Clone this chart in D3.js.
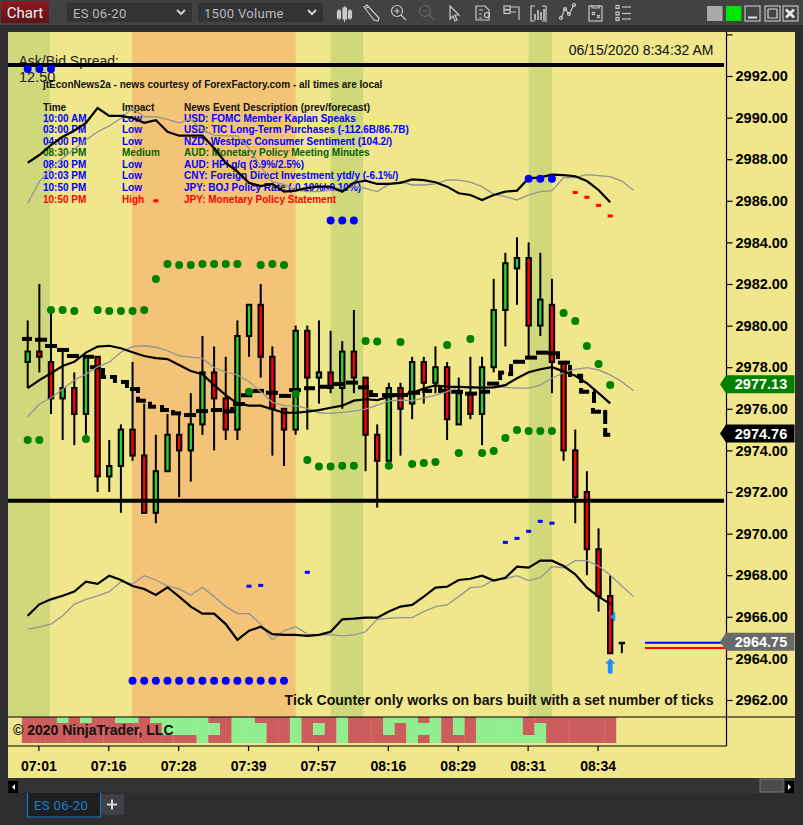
<!DOCTYPE html>
<html><head><meta charset="utf-8">
<script src="https://cdn.jsdelivr.net/npm/d3@7"></script>
<style>
html,body{margin:0;padding:0;background:#2d2d30;overflow:hidden}
svg{display:block}
text{font-family:"Liberation Sans",Arial,sans-serif}
.ax text{font-family:"Liberation Sans",Arial,sans-serif;font-weight:bold;fill:#000}
</style></head><body>
<div id="chart"></div>
<script>
// ---------- DATA ----------
const opens=[2978.25,2978.75,2978.25,2976.5,2977,2975.75,2978.5,2972.75,2973.25,2975,2973.75,2971,2973,2974.75,2974,2975.25,2977.75,2976.5,2975,2979.5,2981,2978.5,2976,2975,2979.75,2977.5,2977.75,2977,2978.75,2977.5,2974.75,2973.5,2977,2976.25,2978.25,2977.25,2978,2975.25,2976.75,2975.75,2978,2980.75,2982.75,2983.25,2980,2981,2978.25,2974,2972,2969.25,2967,2964.75];
const closes=[2978.75,2978.5,2976.5,2977,2975.75,2978.5,2972.75,2973.25,2975,2973.75,2971,2973,2974.75,2974,2975.25,2977.75,2976.5,2975,2979.5,2981,2978.5,2976,2975,2979.75,2977.5,2977.75,2977,2978.75,2977.5,2974.75,2973.5,2977,2976,2978.25,2977.25,2978,2975.5,2976.75,2975.75,2978,2980.75,2983,2983.25,2980,2981.25,2978.25,2974,2971.75,2969.25,2967,2964.25,2964.75];
const highs=[2980.25,2982,2980.75,2978.75,2977.75,2978.5,2978.5,2974.5,2975.25,2978.25,2976.25,2974.75,2975.75,2975.75,2976.75,2979.5,2979,2978.5,2980.25,2981,2982,2979,2976,2980,2980,2980.25,2979.75,2979.25,2980.75,2977.5,2975.25,2977.25,2977.25,2978.5,2978.5,2979,2978.25,2977.5,2978.5,2978.5,2982.25,2983.5,2984.25,2984,2983.5,2982.25,2978.25,2975,2973,2970.25,2968,2964.75];
const lows=[2977,2977.75,2975.75,2974.5,2974.25,2974.75,2972,2972,2971,2973.5,2971,2970.5,2973,2971.75,2972.5,2974.75,2974,2974.5,2974.5,2978.5,2977.5,2973.75,2973.25,2974.75,2975,2976.25,2976.75,2976,2976.75,2973,2971.25,2973.5,2973.75,2975.5,2976.25,2976.75,2974.5,2975.25,2975.5,2974.25,2977.75,2979,2981,2978.5,2979.5,2976.75,2973.5,2970.5,2968,2966.25,2964.25,2964.25];
const upperBlack=[2987.83,2988.20,2988.68,2989.08,2989.37,2989.74,2990.46,2990.08,2990.08,2989.98,2989.75,2989.88,2989.32,2989.13,2989.13,2989.13,2988.54,2987.82,2987.40,2986.86,2986.71,2986.81,2986.44,2986.49,2986.62,2986.68,2986.68,2986.44,2986.87,2986.97,2986.81,2986.81,2986.86,2987.03,2986.99,2986.89,2986.68,2986.36,2986.28,2986.04,2986.28,2986.44,2986.49,2987.08,2987.13,2987.26,2987.23,2987.18,2986.95,2986.52,2985.93];
const upperGray=[2985.88,2986.92,2987.56,2988.04,2988.49,2988.92,2989.32,2989.60,2989.97,2990.45,2990.04,2990.04,2989.92,2989.75,2989.92,2989.40,2989.16,2989.12,2989.12,2988.52,2987.64,2986.92,2986.79,2986.52,2986.44,2986.44,2986.52,2986.60,2986.68,2986.60,2986.44,2986.79,2986.92,2986.76,2986.76,2986.81,2987.00,2986.99,2986.90,2986.68,2986.31,2986.20,2986.04,2986.28,2986.44,2986.49,2987.11,2987.11,2987.26,2987.21,2987.16,2986.95,2986.51];
const midBlack=[2976.99,2977.38,2977.71,2978.06,2978.26,2978.70,2978.99,2979.03,2978.91,2978.72,2978.54,2978.44,2978.39,2978.11,2977.82,2977.66,2977.14,2976.66,2976.26,2976.15,2976.15,2975.98,2975.81,2975.81,2975.86,2975.94,2976.05,2976.15,2976.39,2976.46,2976.42,2976.57,2976.66,2976.77,2976.97,2977.13,2977.05,2977.05,2977.03,2977.02,2977.03,2977.14,2977.47,2977.76,2977.90,2978.00,2977.80,2977.59,2977.23,2976.75,2976.26];
const midGray=[2975.62,2976.23,2976.53,2976.94,2977.38,2977.67,2978.02,2978.24,2978.72,2978.99,2979.03,2978.96,2978.79,2978.55,2978.48,2978.43,2977.98,2977.76,2977.63,2977.30,2976.82,2976.31,2976.15,2976.14,2976.02,2975.81,2975.78,2975.83,2975.89,2975.98,2976.18,2976.38,2976.42,2976.39,2976.51,2976.66,2976.82,2977.06,2977.06,2977.03,2977.03,2977.03,2976.99,2976.99,2977.14,2977.47,2977.74,2977.90,2977.98,2977.87,2977.63,2977.30,2976.87];
const lowerBlack=[2966.05,2966.60,2966.84,2967.01,2967.21,2967.69,2967.58,2967.98,2967.77,2967.48,2967.34,2967.05,2967.42,2966.97,2966.49,2966.15,2966.15,2965.65,2964.89,2965.33,2965.52,2965.17,2965.13,2965.13,2965.08,2965.13,2965.28,2965.88,2965.91,2965.96,2965.96,2966.25,2966.49,2966.57,2966.97,2967.40,2967.45,2967.77,2967.83,2967.98,2967.74,2967.88,2968.41,2968.36,2968.70,2968.70,2968.44,2968.04,2967.40,2966.97,2966.62];
const lowerGray=[2965.41,2965.51,2965.65,2966.05,2966.60,2966.84,2967.01,2967.21,2967.69,2967.58,2967.98,2967.77,2967.48,2967.34,2967.05,2967.42,2966.97,2966.49,2966.15,2966.15,2965.65,2964.89,2965.33,2965.52,2965.17,2965.13,2965.14,2965.08,2965.13,2965.28,2965.88,2965.93,2965.96,2965.96,2966.25,2966.49,2966.57,2966.97,2967.40,2967.45,2967.77,2967.83,2967.98,2967.74,2967.88,2968.41,2968.36,2968.70,2968.70,2968.44,2968.01,2967.48,2966.97];
const greenDots=[2974.50,2974.50,2980.75,2980.75,2980.70,2974.55,2980.75,2980.70,2980.70,2980.70,2980.75,2982.24,2982.96,2982.91,2982.91,2982.96,2982.96,2982.96,2982.96,2976.82,2982.91,2982.96,2982.91,2976.71,2973.54,2973.22,2973.22,2973.26,2973.26,2979.26,2979.23,2973.26,2979.21,2973.35,2973.39,2973.44,2979.07,2973.88,2979.36,2973.88,2973.97,2974.60,2974.98,2974.93,2974.93,2974.93,2980.61,2980.22,2979.02,2978.15,2977.14];
const blueDotBars=[0,1,2,26,27,28,43,44,45,9,10,11,12,13,14,15,16,17,18,19,20,21,22];
const blueDotVals=[2992.34,2992.34,2992.34,2985.05,2985.05,2985.05,2987.06,2987.06,2987.06,2962.93,2962.93,2962.93,2962.93,2962.93,2962.93,2962.93,2962.93,2962.93,2962.93,2962.93,2962.93,2962.93,2962.93];
const redDashBars=[11,47,48,49,50];
const redDashVals=[2986.0,2986.4,2986.17,2985.78,2985.27];
const blueDashBars=[19,20,24,41,42,43,44,45];
const blueDashVals=[2967.47,2967.51,2968.14,2969.58,2969.77,2970.11,2970.59,2970.50];
const stairFrom=[-0.49,0.63,1.49,2.52,3.37,4.75,5.35,6.29,7.06,8.01,8.78,9.30,10.33,11.36,12.30,13.42,14.45,15.73,16.76,17.62,18.31,19.34,20.45,21.57,22.43,23.72,25.01,26.21,27.32,28.35,29.30,30.41,31.44,32.65,33.85,35.23,36.34,37.54,38.74,39.43,40.37,41.24,41.66,42.69,43.63,44.66,45.52,46.38,47.15,47.33,48.52,48.35,49.40,49.40];
const stairTo=[0.37,1.66,2.52,3.55,4.40,5.69,6.21,6.72,7.67,8.70,9.64,10.15,11.01,12.13,13.16,14.45,15.48,16.68,17.79,18.65,19.27,20.28,21.48,22.60,23.46,24.66,26.21,27.24,28.35,29.30,30.07,31.44,32.65,33.68,34.71,36.00,37.37,38.57,39.68,40.46,40.89,41.66,42.69,43.72,44.66,45.69,46.55,46.72,47.67,48.19,48.78,49.21,49.74,50.00];
const stairVals=[2979.36,2979.32,2979.02,2978.83,2978.54,2978.50,2978.00,2977.53,2977.53,2977.29,2976.95,2976.39,2976.10,2975.94,2975.78,2975.70,2975.89,2975.94,2975.88,2976.23,2976.65,2976.86,2976.77,2976.62,2976.90,2976.99,2977.06,2977.19,2977.26,2977.03,2976.66,2976.66,2976.66,2976.77,2976.86,2976.86,2976.82,2976.73,2976.82,2977.21,2977.74,2977.67,2978.26,2978.46,2978.70,2978.67,2978.22,2978.01,2977.59,2976.82,2976.81,2975.86,2975.85,2974.75];
const tailBars=[6.46,7.49,8.52,9.47,9.47,10.50,11.53,12.47,17.54,29.47,35.40,40.55,41.49,45.52,46.55,47.50,47.50,48.61,48.52,49.57,49.57];
const tailFrom=[2977.53,2977.53,2977.29,2976.95,2976.39,2976.10,2975.94,2975.78,2975.88,2976.66,2976.86,2977.74,2977.67,2978.67,2978.01,2977.59,2976.82,2976.81,2975.86,2975.85,2974.75];
const tailTo=[2977.96,2977.24,2977.00,2976.76,2976.58,2976.34,2976.18,2975.94,2976.09,2976.90,2977.05,2977.38,2978.15,2978.39,2977.53,2977.24,2977.00,2976.28,2976.04,2975.27,2975.08];
const heatTop=[0,0,0,1,0,1,0,0,1,1,0,1,1,1,1,1,0,0,1,1,0,0,0,1,0,0,0,1,0,0,0,1,1,1,0,1,0,1,0,1,1,1,1,0,0,0,0,0,0,0,0];
const heatMid=[0,0,0,0,0,0,0,0,0,0,0,0,1,1,1,1,1,0,1,1,1,0,0,1,0,1,0,1,0,0,0,1,0,1,1,1,0,1,0,1,1,1,1,0,1,0,0,0,0,0,0];
const heatBot=[0,0,0,0,0,0,0,0,0,0,0,0,0,0,0,1,0,0,1,1,1,0,0,1,0,0,0,1,0,0,0,0,0,1,0,1,0,0,0,1,1,1,1,1,1,0,0,0,0,0,0];
const bandStart=[-1.7,8.95,26,43];
const bandEnd=[1.9,23,28.8,45];
const bandKinds=["g","o","g","g"];
const timeBars=[1,7,13,19,25,31,37,43,49];
const timeLabels=["07:01","07:16","07:28","07:39","07:57","08:16","08:29","08:31","08:34"];
const priceTicks=[2994,2992,2990,2988,2986,2984,2982,2980,2978,2976,2974,2972,2970,2968,2966,2964,2962];
const hLines=[2992.53,2971.58];
const newsTimes=["10:00 AM","03:00 PM","04:00 PM","08:30 PM","08:30 PM","10:03 PM","10:50 PM","10:50 PM"];
const newsImpact=["Low","Low","Low","Medium","Low","Low","Low","High"];
const newsDesc=["USD: FOMC Member Kaplan Speaks","USD: TIC Long-Term Purchases (-112.6B/86.7B)","NZD: Westpac Consumer Sentiment (104.2/)","AUD: Monetary Policy Meeting Minutes","AUD: HPI q/q (3.9%/2.5%)","CNY: Foreign Direct Investment ytd/y (-6.1%/)","JPY: BOJ Policy Rate (-0.10%/-0.10%)","JPY: Monetary Policy Statement"];
const newsColor={Low:"#0000ff",Medium:"#006400",High:"#ff0000"};
const priceTags=[2977.13,2974.76,2964.75];
const priceTagFill=["#008000","#000000","#696969"];

// ---------- SCALES ----------
const W=803,H=825;
const x=d3.scaleLinear().domain([0,50]).range([27.7,610.2]);
const y=d3.scaleLinear().domain([2992,2962]).range([76,700]);
const step=x(1)-x(0);
const svg=d3.select("#chart").append("svg").attr("width",W).attr("height",H).attr("viewBox",`0 0 ${W} ${H}`);

// ---------- WINDOW CHROME ----------
svg.append("rect").attr("width",W).attr("height",H).attr("fill","#2d2d30");
svg.append("rect").attr("width",W).attr("height",25).attr("fill","#424242");
const defs=svg.append("defs");
const cg=defs.append("linearGradient").attr("id","cg").attr("x1",0).attr("x2",0).attr("y1",0).attr("y2",1);
cg.append("stop").attr("offset",0).attr("stop-color","#8e1a20");cg.append("stop").attr("offset",1).attr("stop-color","#5e1216");
svg.append("rect").attr("x",1).attr("y",1).attr("width",48).attr("height",22).attr("fill","url(#cg)");
svg.append("text").attr("x",25).attr("y",18).attr("text-anchor","middle").attr("font-size",15).attr("fill","#f2f2f2").attr("style","font-family:Roboto").text("Chart");
[[67,125,"ES 06-20"],[198,125,"1500 Volume"]].forEach(([a,w,t])=>{
  svg.append("rect").attr("x",a).attr("y",3).attr("width",w).attr("height",19).attr("fill","#333336");
  svg.append("text").attr("x",a+6).attr("y",17.5).attr("font-size",13).attr("fill","#b8b8b8").attr("style","font-family:Roboto;letter-spacing:.3px").text(t);
  svg.append("path").attr("d",`M${a+110} 10l4 4 4-4`).attr("fill","none").attr("stroke","#cfcfcf").attr("stroke-width",2);
});
const ic=svg.append("g").attr("fill","none").attr("stroke","#c8c8c8").attr("stroke-width",1.2);
ic.append("path").attr("d","M339 9v11M339 12v5M344.5 6v16M350 9v11").attr("stroke-width",1);
[[337.5,11,3,7],[343,8,3.5,11],[348.5,11,3,7]].forEach(r=>ic.append("rect").attr("x",r[0]).attr("y",r[1]).attr("width",r[2]).attr("height",r[3]).attr("fill","#c8c8c8"));
ic.append("path").attr("d","M364 7l3-2 12 13-1 3-4-1zM366 8l3-1");
ic.append("circle").attr("cx",397).attr("cy",11).attr("r",5.5);
ic.append("path").attr("d","M394.5 11h5M397 8.5v5M401 15l5 5");
const dim=svg.append("g").attr("fill","none").attr("stroke","#666").attr("stroke-width",1.2);
dim.append("circle").attr("cx",425).attr("cy",11).attr("r",5.5);
dim.append("path").attr("d","M422.5 11h5M429 15l5 5");
ic.append("path").attr("d","M450 6l9 9-4 0 2 5-2 1-2-5-3 3z");
ic.append("path").attr("d","M476 6h9l4 4v10h-13zM479 10h4M479 14h3M479 18h3");
ic.append("circle").attr("cx",487).attr("cy",15).attr("r",2.5);
ic.append("rect").attr("x",504).attr("y",6).attr("width",6).attr("height",3.5);
ic.append("rect").attr("x",504).attr("y",10).attr("width",6).attr("height",3.5);
ic.append("path").attr("d","M510 7h9v13M510 12h6");
ic.append("path").attr("d","M535 6h-4v15h4M542 6h4v15h-4");
ic.append("path").attr("d","M535 20v-6M538 20v-10M541 20v-8M544 20v-11").attr("stroke-width",1.6);
ic.append("path").attr("d","M561 18l4-9 4 5 5-9");
[[561,18],[565,9],[569,14],[574,5]].forEach(p=>ic.append("circle").attr("cx",p[0]).attr("cy",p[1]).attr("r",1.5));
ic.append("rect").attr("x",589).attr("y",6).attr("width",13).attr("height",15);
ic.append("path").attr("d","M592 5v3h7v-3M592 12l3 3M595 12l-3 3M597 15l3 3M600 15l-3 3");
[7,13.5,19].forEach(v=>{ic.append("rect").attr("x",616).attr("y",v-1.5).attr("width",3).attr("height",3);ic.append("path").attr("d",`M622 ${v}h9`);});
const winG=(a,c)=>{const g=svg.append("rect").attr("x",a).attr("y",6).attr("width",15.5).attr("height",15).attr("fill",c);return g;};
winG(707,"#a9a9a9");winG(726,"#00e600");
[745,765,783].forEach(a=>svg.append("rect").attr("x",a).attr("y",6).attr("width",15).attr("height",15).attr("fill","#444").attr("stroke","#d8d8d8").attr("stroke-width",1));
svg.append("path").attr("d","M748 17.5h9").attr("stroke","#e0e0e0").attr("stroke-width",2);
svg.append("path").attr("d","M768 9h9M768 9v9h9v-9").attr("fill","none").attr("stroke","#d8d8d8").attr("stroke-width",1.2);
svg.append("path").attr("d","M786 9.5l8 8M794 9.5l-8 8").attr("stroke","#e8e8e8").attr("stroke-width",2.6);

// ---------- CHART PANEL ----------
const PL=8,PR=795,PT=32,PB=778,AX=726.5,PanelTop=717,PanelBot=746;
svg.append("rect").attr("x",PL).attr("y",PT).attr("width",PR-PL).attr("height",PB-PT).attr("fill","#f0e68c");
const bandColor={g:"#cfd97c",o:"#f3c477"};
svg.append("g").selectAll("rect").data(bandStart).join("rect")
  .attr("x",(d,i)=>Math.max(PL,x(d))).attr("y",PT)
  .attr("width",(d,i)=>x(bandEnd[i])-Math.max(PL,x(d))).attr("height",PanelTop-PT)
  .attr("fill",(d,i)=>bandColor[bandKinds[i]]);

// Texts below the marks
const t0=svg.append("g");
t0.append("text").attr("x",18.5).attr("y",66).attr("font-size",14).attr("fill","#222").text("Ask/Bid Spread:");
t0.append("text").attr("x",19).attr("y",82).attr("font-size",14.5).attr("fill","#222").text("12.50");
t0.append("text").attr("x",713.5).attr("y",55).attr("text-anchor","end").attr("font-size",14).attr("fill","#111").text("06/15/2020 8:34:32 AM");
const news=t0.append("g").attr("font-size",10).attr("font-weight","bold");
news.append("text").attr("x",43).attr("y",87.5).attr("fill","#111").text("jtEconNews2a - news courtesy of ForexFactory.com - all times are local");
news.append("text").attr("x",43).attr("y",110.5).attr("fill","#111").text("Time");
news.append("text").attr("x",122).attr("y",110.5).attr("fill","#111").text("Impact");
news.append("text").attr("x",184).attr("y",110.5).attr("fill","#111").text("News Event Description (prev/forecast)");
const rowY=d3.scalePoint().domain(d3.range(8)).range([121.5,202.5]);
newsTimes.forEach((t,i)=>{
  const c=newsColor[newsImpact[i]];
  news.append("text").attr("x",43).attr("y",rowY(i)).attr("fill",c).text(t);
  news.append("text").attr("x",122).attr("y",rowY(i)).attr("fill",c).text(newsImpact[i]);
  news.append("text").attr("x",184).attr("y",rowY(i)).attr("fill",c).text(newsDesc[i]);
});
t0.append("text").attr("x",713.5).attr("y",705).attr("text-anchor","end").attr("font-size",14.1).attr("font-weight","bold").attr("fill","#111").text("Tick Counter only works on bars built with a set number of ticks");

// Heat strip
const rowsH=[[heatTop,717,723],[heatMid,723,735],[heatBot,735,743]];
rowsH.forEach(([arr,a,b])=>{
  svg.append("g").selectAll("rect").data(arr).join("rect")
   .attr("x",(d,i)=>x(i)-step/2).attr("y",a).attr("width",step+.2).attr("height",b-a)
   .attr("fill",d=>d?"#90ee90":"#cd5c5c");
});
svg.append("text").attr("x",13).attr("y",735).attr("font-size",14).attr("font-weight","bold").attr("fill","#111").text("\u00A9 2020 NinjaTrader, LLC");

// Candles
const bars=d3.range(opens.length);
const cg2=svg.append("g");
cg2.selectAll("line").data(bars).join("line")
  .attr("x1",x).attr("x2",x).attr("y1",i=>y(highs[i])).attr("y2",i=>y(lows[i])).attr("stroke","#000").attr("stroke-width",2);
cg2.selectAll("rect").data(bars).join("rect")
  .attr("x",i=>x(i)-2.2).attr("width",4.4)
  .attr("y",i=>y(Math.max(opens[i],closes[i]))).attr("height",i=>Math.max(.5,Math.abs(y(opens[i])-y(closes[i]))))
  .attr("fill",i=>closes[i]>=opens[i]?"#32cd32":"#ff0000").attr("stroke","#000").attr("stroke-width",2);

// Stair dashes
const sg=svg.append("g");
sg.selectAll("rect").data(stairVals).join("rect")
  .attr("x",(d,i)=>x(stairFrom[i])).attr("width",(d,i)=>x(stairTo[i])-x(stairFrom[i]))
  .attr("y",d=>y(d)-2).attr("height",4).attr("fill","#000");
sg.selectAll("line").data(tailBars).join("line")
  .attr("x1",d=>x(d)).attr("x2",d=>x(d)).attr("y1",(d,i)=>y(tailFrom[i])).attr("y2",(d,i)=>y(tailTo[i]))
  .attr("stroke","#000").attr("stroke-width",4);

// Moving lines
const ln=d3.line().x((d,i)=>x(i)).y(d=>y(d));
[upperGray,midGray,lowerGray].forEach(s=>svg.append("path").attr("d",ln(s)).attr("fill","none").attr("stroke","#949494").attr("stroke-width",1.3));
[upperBlack,midBlack,lowerBlack].forEach(s=>svg.append("path").attr("d",ln(s)).attr("fill","none").attr("stroke","#000").attr("stroke-width",2.2));

// Horizontal levels
svg.append("g").selectAll("line").data(hLines).join("line")
  .attr("x1",PL).attr("x2",724).attr("y1",d=>y(d)).attr("y2",d=>y(d)).attr("stroke","#000").attr("stroke-width",4);

// Dots
svg.append("g").selectAll("circle").data(greenDots).join("circle")
  .attr("cx",(d,i)=>x(i)).attr("cy",d=>y(d)).attr("r",4).attr("fill","#008000");
svg.append("g").selectAll("circle").data(blueDotVals).join("circle")
  .attr("cx",(d,i)=>x(blueDotBars[i])).attr("cy",d=>y(d)).attr("r",4).attr("fill","#0000ff");
svg.append("g").selectAll("rect").data(redDashVals).join("rect")
  .attr("x",(d,i)=>x(redDashBars[i])-2.5).attr("y",d=>y(d)-1.5).attr("width",5).attr("height",3).attr("fill","#ff0000");
svg.append("g").selectAll("rect").data(blueDashVals).join("rect")
  .attr("x",(d,i)=>x(blueDashBars[i])-2.5).attr("y",d=>y(d)-1.5).attr("width",5).attr("height",3).attr("fill","#0000ff");

// Last-bar markers
svg.append("path").attr("fill","#1e90ff").attr("d",`M${x(50)} ${y(2966)}l5 -5v10z`);
svg.append("path").attr("fill","#1e90ff").attr("d",`M${x(50)-5} ${y(2964)+5}l5 -5l5 5h-2.6v10h-4.8v-10z`);
svg.append("line").attr("x1",645).attr("x2",722).attr("y1",y(2964.75)).attr("y2",y(2964.75)).attr("stroke","#0000ff").attr("stroke-width",2);
svg.append("line").attr("x1",645).attr("x2",726).attr("y1",y(2964.5)).attr("y2",y(2964.5)).attr("stroke","#ff0000").attr("stroke-width",2);

// Frame lines
svg.append("line").attr("x1",PL).attr("x2",PR).attr("y1",PanelTop).attr("y2",PanelTop).attr("stroke","#000").attr("stroke-width",1.2);
svg.append("line").attr("x1",PL).attr("x2",AX).attr("y1",PanelBot).attr("y2",PanelBot).attr("stroke","#000").attr("stroke-width",1.2);
svg.append("line").attr("x1",AX).attr("x2",AX).attr("y1",PT).attr("y2",PanelBot).attr("stroke","#000").attr("stroke-width",1.2);

// Axes
const yAxis=d3.axisRight(y).tickValues(priceTicks).tickSize(6).tickPadding(3).tickFormat(d=>d>2993?"":d3.format(".2f")(d));
const ga=svg.append("g").attr("class","ax").attr("transform",`translate(${AX},0)`).call(yAxis);
ga.select(".domain").remove();
ga.selectAll("text").attr("font-size",14.5).style("font-size","14.5px");
ga.selectAll("line").attr("stroke","#000").attr("stroke-width",1.2);
const xAxis=d3.axisBottom(x).tickValues(timeBars).tickSize(5).tickPadding(10).tickFormat((d,i)=>timeLabels[i]);
const gb=svg.append("g").attr("class","ax").attr("transform",`translate(-1,${PanelBot})`).call(xAxis);
gb.select(".domain").remove();
gb.selectAll("text").style("font-size","14px");
gb.selectAll("line").attr("stroke","#000").attr("stroke-width",1.2);

// Price tags
priceTags.forEach((p,i)=>{
  const c=y(p)-1, g=svg.append("g");
  g.append("path").attr("d",`M720 ${c}l6 -9h68.5v18h-68.5z`).attr("fill",priceTagFill[i]);
  g.append("text").attr("x",761).attr("y",c+5.2).attr("text-anchor","middle").attr("font-size",14.5).attr("font-weight","bold").attr("fill","#fff").text(d3.format(".2f")(p));
});

// Bottom bars & tab
svg.append("rect").attr("x",8).attr("y",778).attr("width",787).attr("height",15).attr("fill","#333333");
svg.append("rect").attr("x",8).attr("y",781).attr("width",10).attr("height",12).attr("fill","#000");
svg.append("path").attr("d","M15 784v6l-3-3z").attr("fill","#fff");
svg.append("rect").attr("x",760).attr("y",779).attr("width",23).attr("height",13).attr("fill","#4c4c4c").attr("stroke","#777");
svg.append("rect").attr("x",785).attr("y",781).attr("width",9).attr("height",12).attr("fill","#000");
svg.append("path").attr("d","M788 784v6l3-3z").attr("fill","#fff");
svg.append("path").attr("d","M27.5 793v24h73v-24").attr("fill","#1e1e1e").attr("stroke","#1a78c0").attr("stroke-width",1.2);
svg.append("text").attr("x",34).attr("y",809.5).attr("font-size",13.2).attr("fill","#1c7fcc").attr("style","font-family:Roboto;letter-spacing:.3px").text("ES 06-20");
svg.append("rect").attr("x",101).attr("y",794).attr("width",23).attr("height",21).attr("fill","#3f3f46");
svg.append("path").attr("d","M107 804.5h10M112 799.5v10").attr("stroke","#d8d8d8").attr("stroke-width",2);
</script>
</body></html>
